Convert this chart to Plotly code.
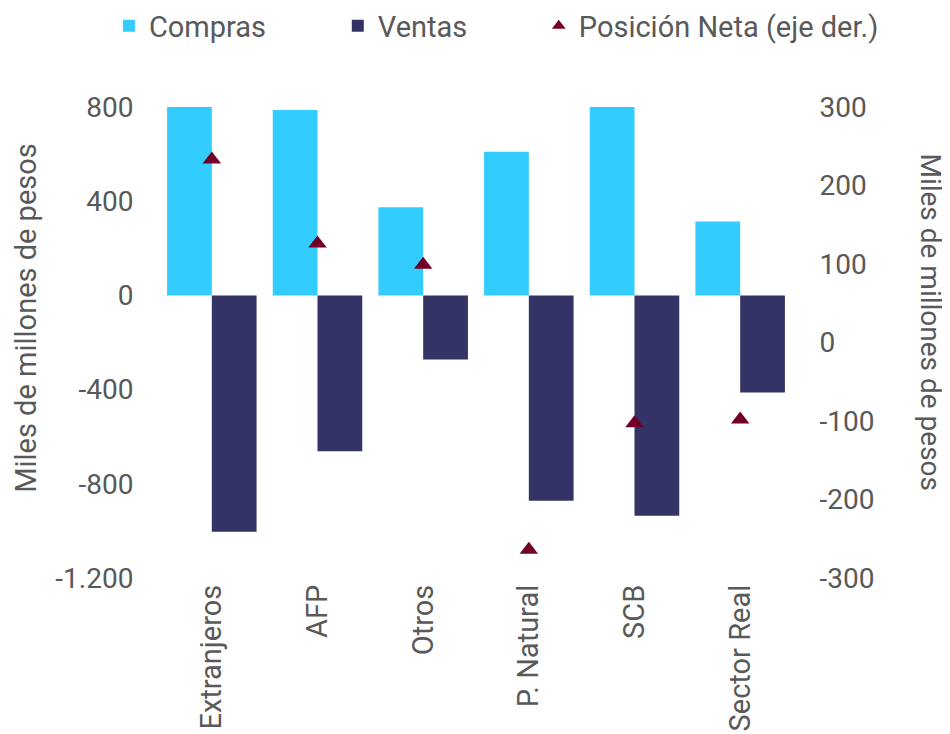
import plotly.graph_objects as go

categories = ["Extranjeros", "AFP", "Otros", "P. Natural", "SCB", "Sector Real"]
compras = [800, 787, 374, 610, 800, 314]
ventas = [-1004, -662, -272, -872, -936, -412]
posicion_neta = [233, 126, 99, -264, -103, -98]

left_ticks = [800, 400, 0, -400, -800, -1200]
left_ticktext = ["800", "400", "0", "-400", "-800", "-1.200"]
right_ticks = [300, 200, 100, 0, -100, -200, -300]
right_ticktext = ["300", "200", "100", "0", "-100", "-200", "-300"]

GRAY = "#595959"
FONT = "Roboto"

fig = go.Figure()
fig.add_trace(go.Bar(x=categories, y=compras, name="Compras", legend="legend",
                     marker=dict(color="#33CCFF", line=dict(width=0))))
fig.add_trace(go.Bar(x=categories, y=ventas, name="Ventas", legend="legend2",
                     marker=dict(color="#333366", line=dict(width=0))))
fig.add_trace(go.Scatter(x=categories, y=posicion_neta, name="Posición Neta (eje der.)",
                         mode="markers", yaxis="y2", legend="legend3",
                         marker=dict(symbol="triangle-up", size=16, color="#720026")))

legend_common = dict(orientation="h", xanchor="left", y=1.172, yanchor="middle",
                     font=dict(family=FONT, size=29, color=GRAY),
                     itemsizing="constant", bgcolor="rgba(0,0,0,0)")

fig.update_layout(
    width=942, height=726,
    margin=dict(l=151, r=157, t=99, b=156, autoexpand=False),
    paper_bgcolor="white", plot_bgcolor="white",
    barmode="group", bargap=0.153, bargroupgap=0,
    font=dict(family=FONT, color=GRAY, size=28),
    showlegend=True,
    legend=dict(x=-0.079, **legend_common),
    legend2=dict(x=0.282, **legend_common),
    legend3=dict(x=0.599, **legend_common),
    xaxis=dict(type="category", tickangle=-90, showgrid=False, zeroline=False,
               showline=False, ticks="",
               tickfont=dict(size=29, color=GRAY, family=FONT)),
    yaxis=dict(range=[-1200, 800], tickvals=left_ticks, ticktext=left_ticktext,
               showgrid=False, zeroline=False, showline=False,
               ticks="outside", ticklen=19, tickcolor="rgba(0,0,0,0)",
               tickfont=dict(size=28, color=GRAY, family=FONT)),
    yaxis2=dict(range=[-300, 300], tickvals=right_ticks, ticktext=right_ticktext,
                overlaying="y", side="right", showgrid=False, zeroline=False,
                showline=False, ticks="outside", ticklen=20, tickcolor="rgba(0,0,0,0)",
                tickfont=dict(size=28, color=GRAY, family=FONT)),
    annotations=[
        dict(text="Miles de millones de pesos", xref="paper", yref="paper",
             x=-0.210, y=0.552, xanchor="center", yanchor="middle", textangle=-90,
             showarrow=False, font=dict(size=29, color=GRAY, family=FONT)),
        dict(text="Miles de millones de pesos", xref="paper", yref="paper",
             x=1.217, y=0.5435, xanchor="center", yanchor="middle", textangle=90,
             showarrow=False, font=dict(size=28, color=GRAY, family=FONT)),
    ],
)

fig.write_html("out.html")
